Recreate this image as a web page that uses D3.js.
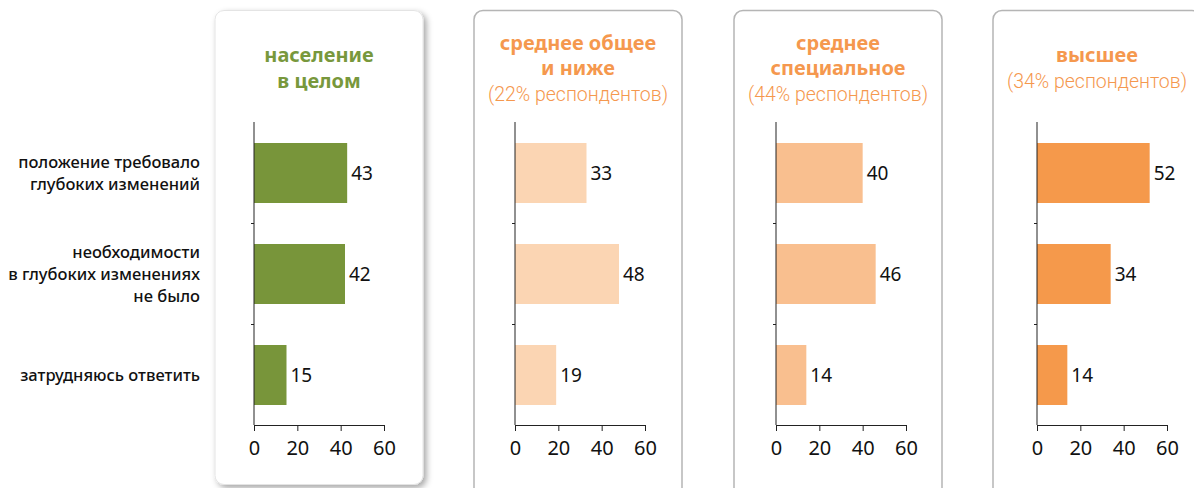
<!DOCTYPE html>
<html>
<head>
<meta charset="utf-8">
<script src="https://cdn.jsdelivr.net/npm/d3@7"></script>
<style>
  body { margin: 0; background: #fff; }
  text { font-family: "Noto Sans", sans-serif; }
</style>
</head>
<body>
<div id="chart"></div>
<script>
const categories = [
    ['положение требовало', 'глубоких изменений'],
    ['необходимости', 'в глубоких изменениях', 'не было'],
    ['затрудняюсь ответить']
];

const groupTitles = [
    ['население', 'в целом'],
    ['среднее общее', 'и ниже'],
    ['среднее', 'специальное'],
    ['высшее']
];
const groupShares = [null, '(22% респондентов)', '(44% респондентов)', '(34% респондентов)'];

const populationTotal = [43, 42, 15];
const secondaryGeneral = [33, 48, 19];
const secondarySpecial = [40, 46, 14];
const higherEducation = [52, 34, 14];
const seriesValues = [populationTotal, secondaryGeneral, secondarySpecial, higherEducation];

const xTicks = [0, 20, 40, 60];

const chartWidth = 1194;
const chartHeight = 488;

const panelLefts = [215, 474, 734, 993];
const axisLefts = [254, 515, 776, 1037];
const panelWidth = 208;
const barColors = ['#78953a', '#fbd5b3', '#f9bf8f', '#f5994b'];
const titleColors = ['#78983c', '#f5984e', '#f5984e', '#f5984e'];

const svg = d3.select('#chart')
    .append('svg')
    .attr('width', chartWidth)
    .attr('height', chartHeight);

const defs = svg.append('defs');
const shadow = defs.append('filter')
    .attr('id', 'shadow')
    .attr('x', '-10%').attr('y', '-10%')
    .attr('width', '130%').attr('height', '130%');
shadow.append('feDropShadow')
    .attr('dx', 3).attr('dy', 3)
    .attr('stdDeviation', 3)
    .attr('flood-color', '#000')
    .attr('flood-opacity', 0.35);

const xScale = d3.scaleLinear()
    .domain([0, 60])
    .range([0, 130]);

const yScale = d3.scaleBand()
    .domain(d3.range(categories.length))
    .range([122.5, 425.5])
    .paddingInner(0.406)
    .paddingOuter(0.203);

// panels
seriesValues.forEach((values, i) => {
    const first = i === 0;
    svg.append('rect')
        .attr('x', panelLefts[i])
        .attr('y', 10.5)
        .attr('width', panelWidth)
        .attr('height', first ? 474 : 490)
        .attr('rx', 9)
        .attr('fill', '#fff')
        .attr('stroke', first ? '#e4e4e4' : '#b5b5b5')
        .attr('stroke-width', first ? 1 : 1.5)
        .attr('filter', first ? 'url(#shadow)' : null);

    const cx = panelLefts[i] + panelWidth / 2;
    const lines = groupTitles[i].map(t => ({ text: t, bold: true }));
    if (groupShares[i]) lines.push({ text: groupShares[i], bold: false });
    const n = lines.length;

    // one text element per title, lines as tspans
    svg.append('text')
        .attr('text-anchor', 'middle')
        .attr('fill', titleColors[i])
        .selectAll('tspan')
        .data(lines)
        .enter()
        .append('tspan')
        .attr('x', cx)
        .attr('y', (d, k) => 68 + (k - (n - 1) / 2) * 25.5 + 7)
        .attr('font-size', d => d.bold ? 20 : 19.5)
        .attr('font-weight', d => d.bold ? 700 : 300)
        .attr('font-family', d => d.bold ? '"Noto Sans", sans-serif' : 'Roboto, sans-serif')
        .text(d => d.text);

    const g = svg.append('g')
        .attr('transform', 'translate(' + axisLefts[i] + ',0)');

    g.selectAll('rect.bar')
        .data(values)
        .enter()
        .append('rect')
        .attr('class', 'bar')
        .attr('x', 0)
        .attr('y', (d, k) => yScale(k))
        .attr('width', d => xScale(d))
        .attr('height', yScale.bandwidth())
        .attr('fill', barColors[i]);

    g.selectAll('text.value')
        .data(values)
        .enter()
        .append('text')
        .attr('class', 'value')
        .attr('x', d => xScale(d) + 4)
        .attr('y', (d, k) => yScale(k) + yScale.bandwidth() / 2 + 7)
        .attr('font-size', 19)
        .attr('fill', '#111')
        .text(d => d);

    const xAxis = d3.axisBottom(xScale)
        .tickValues(xTicks)
        .tickSizeOuter(0)
        .tickSize(6)
        .tickPadding(10);

    const ax = g.append('g')
        .attr('transform', 'translate(0,425)')
        .call(xAxis);
    ax.select('.domain').attr('stroke', '#222');
    ax.selectAll('.tick line').attr('stroke', '#222');
    ax.selectAll('.tick text')
        .attr('font-size', 20)
        .attr('font-family', '"Noto Sans", sans-serif')
        .attr('fill', '#111');

    // vertical axis line with small separators between bars
    g.append('line')
        .attr('x1', 0).attr('x2', 0)
        .attr('y1', 122).attr('y2', 425)
        .attr('stroke', '#222');
    const step = yScale.step();
    g.selectAll('line.sep')
        .data(d3.range(1, categories.length))
        .enter()
        .append('line')
        .attr('class', 'sep')
        .attr('x1', -3).attr('x2', 0)
        .attr('y1', k => yScale(k) - (step - yScale.bandwidth()) / 2)
        .attr('y2', k => yScale(k) - (step - yScale.bandwidth()) / 2)
        .attr('stroke', '#222');
});

// category labels
categories.forEach((lines, k) => {
    const mid = yScale(k) + yScale.bandwidth() / 2;
    svg.append('text')
        .attr('text-anchor', 'end')
        .attr('font-size', 16.5)
        .attr('font-weight', 500)
        .attr('fill', '#111')
        .selectAll('tspan')
        .data(lines)
        .enter()
        .append('tspan')
        .attr('x', 200)
        .attr('y', (d, j) => mid + (j - (lines.length - 1) / 2) * 22 + 6)
        .text(d => d);
});
</script>
</body>
</html>
